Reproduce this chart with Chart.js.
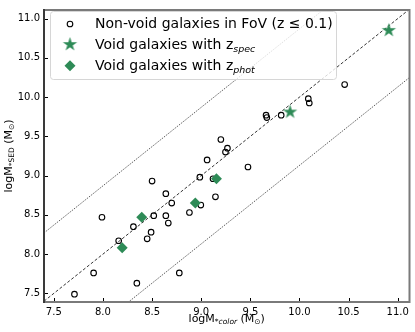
<!DOCTYPE html>
<html>
<head>
<meta charset="utf-8">
<script src="https://cdn.jsdelivr.net/npm/chart.js@4.4.1/dist/chart.umd.min.js"></script>
<style>
  html, body { margin: 0; padding: 0; background: #fff; }
</style>
</head>
<body>
<canvas id="chart" width="415" height="332"></canvas>
<script>
// non-void galaxies (open circles)
const nonVoidX = [7.71, 7.905, 7.99, 8.16, 8.31, 8.345, 8.45, 8.49, 8.517, 8.50, 8.64, 8.64, 8.665, 8.70, 8.777, 8.88,
  8.986, 8.996, 9.12, 9.145, 9.476, 9.06, 9.20, 9.267, 9.247, 9.66, 9.668, 9.814, 10.09, 10.10, 10.46];
const nonVoidY = [7.49, 7.76, 8.47, 8.17, 8.35, 7.63, 8.195, 8.28, 8.49, 8.93, 8.77, 8.49, 8.395, 8.65, 7.76, 8.53,
  8.98, 8.625, 8.96, 8.73, 9.11, 9.20, 9.46, 9.35, 9.30, 9.77, 9.74, 9.77, 9.98, 9.925, 10.16];
// void galaxies with spectroscopic z (stars)
const specX = [9.905, 10.91];
const specY = [9.81, 10.85];
// void galaxies with photometric z (diamonds)
const photX = [8.196, 8.395, 8.94, 9.155];
const photY = [8.08, 8.47, 8.65, 8.96];

const xTicks = [7.5, 8.0, 8.5, 9.0, 9.5, 10.0, 10.5, 11.0];
const yTicks = [7.5, 8.0, 8.5, 9.0, 9.5, 10.0, 10.5, 11.0];
const xRange = [7.4, 11.12];
const yRange = [7.39, 11.11];
const scatterOffsets = [0.87, -0.87];   // dotted lines either side of 1:1

const green = '#2e8b57';
const font = 'DejaVu Sans';

const toPts = (xs, ys) => xs.map((v, i) => ({ x: v, y: ys[i] }));
const lineFor = off => [{ x: xRange[0], y: xRange[0] + off }, { x: xRange[1], y: xRange[1] + off }];

function makeStar(R, color) {
  const size = Math.ceil(2 * R + 2);
  const c = document.createElement('canvas');
  c.width = c.height = size;
  const g = c.getContext('2d');
  const cx = size / 2, cy = size / 2, r = R * 0.382;
  g.beginPath();
  for (let i = 0; i < 10; i++) {
    const a = -Math.PI / 2 + i * Math.PI / 5;
    const rr = i % 2 ? r : R;
    g.lineTo(cx + rr * Math.cos(a), cy + rr * Math.sin(a));
  }
  g.closePath();
  g.fillStyle = color;
  g.fill();
  return c;
}
const starImg = makeStar(7.5, green);

// draw a list of text runs [{t, f, dy}] starting at x, baseline y
function runsWidth(ctx, runs) {
  let w = 0;
  runs.forEach(r => { ctx.font = r.f; w += ctx.measureText(r.t).width; });
  return w;
}
function drawRuns(ctx, runs, x, y) {
  runs.forEach(r => {
    ctx.font = r.f;
    ctx.fillText(r.t, x, y + (r.dy || 0));
    x += ctx.measureText(r.t).width;
  });
}

const extras = {
  id: 'extras',
  afterDraw(chart) {
    const { ctx, chartArea: a, scales: { x, y } } = chart;
    ctx.save();

    // inward ticks
    ctx.strokeStyle = '#000';
    ctx.lineWidth = 1;
    xTicks.forEach(v => {
      const px = Math.round(x.getPixelForValue(v)) + 0.5;
      ctx.beginPath(); ctx.moveTo(px, a.bottom); ctx.lineTo(px, a.bottom - 4); ctx.stroke();
    });
    yTicks.forEach(v => {
      const py = Math.round(y.getPixelForValue(v)) + 0.5;
      ctx.beginPath(); ctx.moveTo(a.left, py); ctx.lineTo(a.left + 4, py); ctx.stroke();
    });

    // frame
    ctx.lineWidth = 2;
    ctx.strokeStyle = '#7a7a7a';
    ctx.beginPath();
    ctx.moveTo(a.left, a.top); ctx.lineTo(a.right, a.top); ctx.lineTo(a.right, a.bottom); ctx.lineTo(a.left, a.bottom);
    ctx.stroke();
    ctx.strokeStyle = '#3a3a3a';
    ctx.beginPath(); ctx.moveTo(a.left, a.top - 1); ctx.lineTo(a.left, a.bottom + 1); ctx.stroke();

    // legend box
    const bx = 50.5, by = 11.5, bw = 286, bh = 68, rad = 3;
    ctx.beginPath();
    ctx.moveTo(bx + rad, by);
    ctx.arcTo(bx + bw, by, bx + bw, by + bh, rad);
    ctx.arcTo(bx + bw, by + bh, bx, by + bh, rad);
    ctx.arcTo(bx, by + bh, bx, by, rad);
    ctx.arcTo(bx, by, bx + bw, by, rad);
    ctx.closePath();
    ctx.fillStyle = 'rgba(255,255,255,0.8)';
    ctx.fill();
    ctx.lineWidth = 1;
    ctx.strokeStyle = '#d6d6d6';
    ctx.stroke();

    // legend markers
    ctx.strokeStyle = '#000';
    ctx.lineWidth = 1.1;
    ctx.beginPath(); ctx.arc(70, 24, 2.8, 0, Math.PI * 2); ctx.stroke();
    ctx.drawImage(starImg, 70 - starImg.width / 2, 44.5 - starImg.height / 2);
    ctx.fillStyle = green;
    ctx.beginPath();
    ctx.moveTo(64.5, 65.7); ctx.lineTo(70, 60.2); ctx.lineTo(75.5, 65.7); ctx.lineTo(70, 71.2);
    ctx.closePath(); ctx.fill();

    // legend text
    ctx.fillStyle = '#000';
    ctx.textBaseline = 'alphabetic';
    ctx.textAlign = 'left';
    const lf = '14px "' + font + '"';
    const sf = 'italic 9.5px "' + font + '"';
    drawRuns(ctx, [{ t: 'Non-void galaxies in FoV (z \u2264 0.1)', f: lf }], 95, 28);
    drawRuns(ctx, [{ t: 'Void galaxies with z', f: lf }, { t: 'spec', f: sf, dy: 3 }], 95, 49);
    drawRuns(ctx, [{ t: 'Void galaxies with z', f: lf }, { t: 'phot', f: sf, dy: 3 }], 95, 70.3);

    // axis titles
    const tf = '11px "' + font + '"';
    const tsf = '7.5px "' + font + '"';
    const tsi = 'italic 7.5px "' + font + '"';
    const xRuns = [{ t: 'logM', f: tf }, { t: '*', f: tsf, dy: 2 }, { t: 'color', f: tsi, dy: 2 },
      { t: ' (M', f: tf }, { t: '\u2299', f: tsf, dy: 2 }, { t: ')', f: tf }];
    const xc = (a.left + a.right) / 2;
    drawRuns(ctx, xRuns, xc - runsWidth(ctx, xRuns) / 2, 322);

    const yRuns = [{ t: 'logM', f: tf }, { t: '*SED', f: tsf, dy: 2 },
      { t: ' (M', f: tf }, { t: '\u2299', f: tsf, dy: 2 }, { t: ')', f: tf }];
    ctx.translate(11.5, (a.top + a.bottom) / 2);
    ctx.rotate(-Math.PI / 2);
    drawRuns(ctx, yRuns, -runsWidth(ctx, yRuns) / 2, 0);

    ctx.restore();
  }
};

Chart.defaults.font.family = font;
Chart.defaults.color = '#000';

new Chart(document.getElementById('chart'), {
  type: 'scatter',
  data: {
    datasets: [
      { label: 'Void galaxies with zphot', data: toPts(photX, photY), pointStyle: 'rectRot',
        pointRadius: 5.5, backgroundColor: green, borderColor: green, borderWidth: 0 },
      { label: 'Void galaxies with zspec', data: toPts(specX, specY), pointStyle: starImg },
      { label: 'Non-void galaxies in FoV', data: toPts(nonVoidX, nonVoidY), pointStyle: 'circle',
        pointRadius: 2.8, backgroundColor: 'rgba(0,0,0,0)', borderColor: '#000', borderWidth: 1.1 },
      { label: '1:1', data: lineFor(0), showLine: true, pointRadius: 0, borderColor: '#000',
        borderWidth: 0.8, borderDash: [3, 2] },
      { label: 'upper', data: lineFor(scatterOffsets[0]), showLine: true, pointRadius: 0, borderColor: '#222',
        borderWidth: 0.8, borderDash: [1.2, 1.2] },
      { label: 'lower', data: lineFor(scatterOffsets[1]), showLine: true, pointRadius: 0, borderColor: '#222',
        borderWidth: 0.8, borderDash: [1.2, 1.2] }
    ]
  },
  options: {
    responsive: false,
    animation: false,
    events: [],
    devicePixelRatio: 1,
    layout: { padding: { top: 5, right: 4, left: 0, bottom: 0 } },
    plugins: { legend: { display: false }, tooltip: { enabled: false } },
    scales: {
      x: {
        type: 'linear', min: xRange[0], max: xRange[1],
        grid: { display: false, drawTicks: false },
        border: { display: false },
        afterBuildTicks: s => { s.ticks = xTicks.map(v => ({ value: v })); },
        afterFit: s => { s.height = 30; },
        ticks: { font: { size: 10 }, padding: 4, maxRotation: 0, callback: v => v.toFixed(1) }
      },
      y: {
        type: 'linear', min: yRange[0], max: yRange[1],
        grid: { display: false, drawTicks: false },
        border: { display: false },
        afterBuildTicks: s => { s.ticks = yTicks.map(v => ({ value: v })); },
        afterFit: s => { s.width = 44; },
        ticks: { font: { size: 10 }, padding: 4, callback: v => v.toFixed(1) }
      }
    }
  },
  plugins: [extras]
});
</script>
</body>
</html>
